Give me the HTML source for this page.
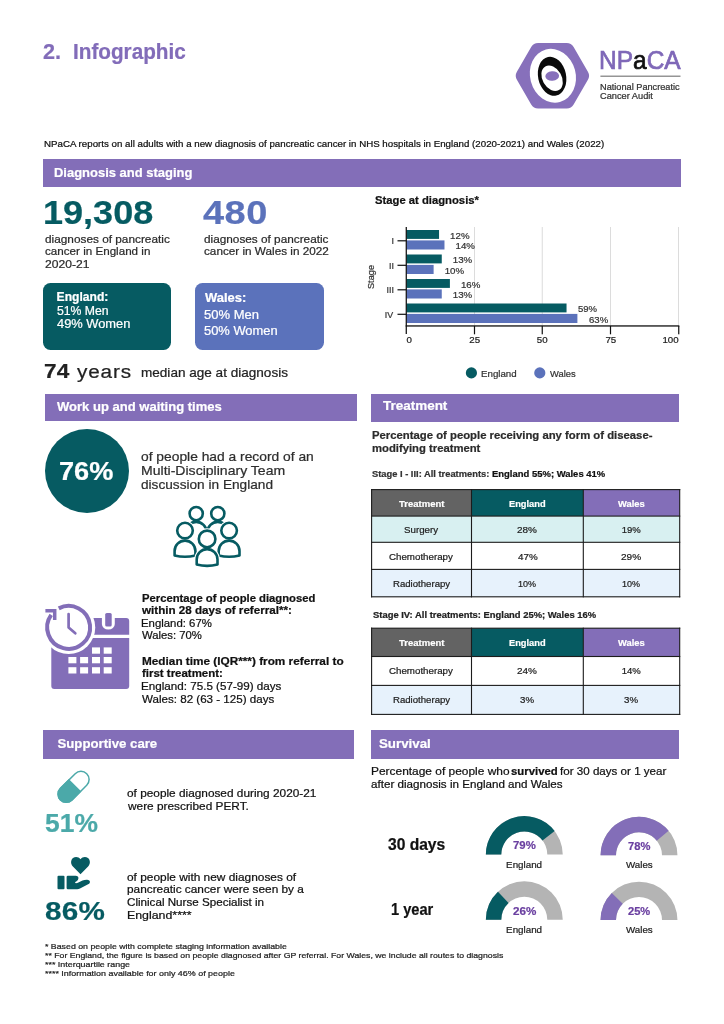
<!DOCTYPE html>
<html lang="en"><head><meta charset="utf-8"><title>NPaCA Infographic</title>
<style>
html,body{margin:0;padding:0;background:#fff;}
body{width:724px;height:1024px;position:relative;overflow:hidden;will-change:transform;font-family:"Liberation Sans",Arial,sans-serif;}
.t{position:absolute;white-space:nowrap;margin:0;padding:0;transform-origin:0 0;-webkit-text-stroke:0.22px currentColor;}
.r{position:absolute;}
svg{position:absolute;left:0;top:0;overflow:visible;}
svg text{font-family:"Liberation Sans",Arial,sans-serif;}
</style></head><body>
<div class="t" style="left:43.47px;top:41px;font-size:21.80px;line-height:21.80px;color:#826cb9;font-weight:700;transform:scaleX(0.9915);">2.</div>
<div class="t" style="left:73.23px;top:41px;font-size:21.80px;line-height:21.80px;color:#826cb9;font-weight:700;transform:scaleX(0.9502);">Infographic</div>
<svg width="724" height="1024" viewBox="0 0 724 1024">
<g id="logo">
<polygon points="580.98,75.75 566.69,100.50 538.11,100.50 523.82,75.75 538.11,51.00 566.69,51.00" fill="#8770bb" stroke="#8770bb" stroke-width="16.0" stroke-linejoin="round"/>
<ellipse cx="552.9" cy="75.7" rx="22.8" ry="27.2" fill="#fff" transform="rotate(-15 552.9 75.7)"/>
<ellipse cx="552.1" cy="76.3" rx="14.0" ry="19.7" fill="#0a0a0a" transform="rotate(-12 552.1 76.3)"/>
<ellipse cx="552.1" cy="78.3" rx="9.6" ry="13.6" fill="#fff" transform="rotate(-30 552.1 78.3)"/>
<ellipse cx="552.2" cy="76" rx="6.9" ry="4.8" fill="#8770bb" transform="rotate(-5 552.2 76)"/>
<rect x="600.4" y="75.6" width="80.1" height="1.2" fill="#7c7c7c"/>
</g>
</svg>
<div class="t" style="left:598.79px;top:48px;font-size:25.30px;line-height:25.30px;color:#111;transform:scaleX(0.9678);-webkit-text-stroke:0.7px currentColor;"><span style="color:#7f68b8">NP</span>a<span style="color:#7f68b8">CA</span></div>
<div class="t" style="left:599.65px;top:83px;font-size:8.30px;line-height:8.30px;color:#333;transform:scaleX(1.1073);">National Pancreatic</div>
<div class="t" style="left:599.94px;top:92px;font-size:8.30px;line-height:8.30px;color:#333;transform:scaleX(1.1136);">Cancer Audit</div>
<div class="t" style="left:44.40px;top:140px;font-size:9.00px;line-height:9.00px;color:#111;transform:scaleX(1.0805);">NPaCA reports on all adults with a new diagnosis of pancreatic cancer in NHS hospitals in England (2020-2021) and Wales (2022)</div>
<div class="r" style="left:43.00px;top:159.10px;width:638.20px;height:28.40px;background:#836eb8;"></div>
<div class="t" style="left:53.54px;top:166px;font-size:13.20px;line-height:13.20px;color:#fff;font-weight:700;transform:scaleX(0.9837);">Diagnosis and staging</div>
<div class="r" style="left:44.90px;top:393.60px;width:311.80px;height:27.30px;background:#836eb8;"></div>
<div class="t" style="left:56.59px;top:400px;font-size:13.20px;line-height:13.20px;color:#fff;font-weight:700;transform:scaleX(0.9878);">Work up and waiting times</div>
<div class="r" style="left:371.20px;top:393.50px;width:307.70px;height:28.20px;background:#836eb8;"></div>
<div class="t" style="left:382.75px;top:399px;font-size:13.20px;line-height:13.20px;color:#fff;font-weight:700;transform:scaleX(1.0210);">Treatment</div>
<div class="r" style="left:43.00px;top:730.40px;width:311.10px;height:28.60px;background:#836eb8;"></div>
<div class="t" style="left:57.53px;top:737px;font-size:13.20px;line-height:13.20px;color:#fff;font-weight:700;">Supportive care</div>
<div class="r" style="left:371.00px;top:730.40px;width:307.90px;height:28.20px;background:#836eb8;"></div>
<div class="t" style="left:378.63px;top:737px;font-size:13.20px;line-height:13.20px;color:#fff;font-weight:700;transform:scaleX(1.0086);">Survival</div>
<div class="t" style="left:43.07px;top:196px;font-size:33.00px;line-height:33.00px;color:#065b62;font-weight:700;transform:scaleX(1.0922);">19,308</div>
<div class="t" style="left:203.43px;top:196px;font-size:33.00px;line-height:33.00px;color:#5b72bb;font-weight:700;letter-spacing:0.429px;transform:scaleX(1.1500);">480</div>
<div class="t" style="left:44.90px;top:234px;font-size:11.40px;line-height:11.40px;color:#2a2a2a;transform:scaleX(1.0373);">diagnoses of pancreatic</div>
<div class="t" style="left:44.91px;top:246px;font-size:11.40px;line-height:11.40px;color:#2a2a2a;transform:scaleX(1.0207);">cancer in England in</div>
<div class="t" style="left:44.79px;top:259px;font-size:11.40px;line-height:11.40px;color:#2a2a2a;transform:scaleX(1.0633);">2020-21</div>
<div class="t" style="left:203.90px;top:234px;font-size:11.40px;line-height:11.40px;color:#2a2a2a;transform:scaleX(1.0347);">diagnoses of pancreatic</div>
<div class="t" style="left:203.91px;top:246px;font-size:11.40px;line-height:11.40px;color:#2a2a2a;transform:scaleX(1.0300);">cancer in Wales in 2022</div>
<div class="r" style="left:43.00px;top:283.00px;width:128.00px;height:66.60px;background:#065b62;border-radius:7.5px;"></div>
<div class="r" style="left:194.90px;top:283.00px;width:128.80px;height:66.60px;background:#5b72bb;border-radius:7.5px;"></div>
<div class="t" style="left:56.60px;top:291px;font-size:12.10px;line-height:12.10px;color:#fff;font-weight:700;">England:</div>
<div class="t" style="left:56.91px;top:305px;font-size:12.10px;line-height:12.10px;color:#fff;transform:scaleX(1.0110);">51% Men</div>
<div class="t" style="left:57.12px;top:318px;font-size:12.10px;line-height:12.10px;color:#fff;transform:scaleX(1.0632);">49% Women</div>
<div class="t" style="left:204.89px;top:292px;font-size:12.10px;line-height:12.10px;color:#fff;font-weight:700;transform:scaleX(1.0702);">Wales:</div>
<div class="t" style="left:204.38px;top:309px;font-size:12.10px;line-height:12.10px;color:#fff;transform:scaleX(1.0752);">50% Men</div>
<div class="t" style="left:204.38px;top:325px;font-size:12.10px;line-height:12.10px;color:#fff;transform:scaleX(1.0666);">50% Women</div>
<div class="t" style="left:43.95px;top:362px;font-size:19.60px;line-height:19.60px;color:#222;font-weight:700;letter-spacing:0.083px;transform:scaleX(1.1500);">74</div>
<div class="t" style="left:76.96px;top:363px;font-size:18.00px;line-height:18.00px;color:#222;letter-spacing:0.734px;transform:scaleX(1.1500);">years</div>
<div class="t" style="left:141.00px;top:367px;font-size:12.40px;line-height:12.40px;color:#222;transform:scaleX(1.0941);">median age at diagnosis</div>
<div class="t" style="left:374.98px;top:195px;font-size:10.90px;line-height:10.90px;color:#111;font-weight:700;transform:scaleX(1.0344);">Stage at diagnosis*</div>
<svg width="724" height="1024" viewBox="0 0 724 1024">
<rect x="474.00" y="227" width="1" height="99" fill="#dcdcdc"/>
<rect x="541.75" y="227" width="1" height="99" fill="#dcdcdc"/>
<rect x="610.00" y="227" width="1" height="99" fill="#dcdcdc"/>
<rect x="678.00" y="227" width="1" height="99" fill="#dcdcdc"/>
<rect x="406.50" y="230.00" width="32.55" height="8.9" fill="#065b62"/>
<rect x="406.50" y="240.40" width="37.98" height="9.1" fill="#5b72bb"/>
<rect x="397.5" y="240.20" width="9" height="1.2" fill="#111"/>
<rect x="406.50" y="254.50" width="35.26" height="8.9" fill="#065b62"/>
<rect x="406.50" y="264.90" width="27.12" height="9.1" fill="#5b72bb"/>
<rect x="397.5" y="264.70" width="9" height="1.2" fill="#111"/>
<rect x="406.50" y="279.00" width="43.40" height="8.9" fill="#065b62"/>
<rect x="406.50" y="289.40" width="35.26" height="9.1" fill="#5b72bb"/>
<rect x="397.5" y="289.20" width="9" height="1.2" fill="#111"/>
<rect x="406.50" y="303.50" width="160.04" height="8.9" fill="#065b62"/>
<rect x="406.50" y="313.90" width="170.89" height="9.1" fill="#5b72bb"/>
<rect x="397.5" y="313.70" width="9" height="1.2" fill="#111"/>
<rect x="405.65" y="227" width="1.25" height="107" fill="#111"/>
<rect x="405.65" y="325.3" width="273.7" height="1.3" fill="#111"/>
<rect x="473.90" y="326" width="1.2" height="8.3" fill="#111"/>
<rect x="541.65" y="326" width="1.2" height="8.3" fill="#111"/>
<rect x="609.90" y="326" width="1.2" height="8.3" fill="#111"/>
<rect x="678.15" y="326" width="1.2" height="8.3" fill="#111"/>
<circle cx="471.4" cy="372.9" r="5.6" fill="#065b62"/>
<circle cx="539.8" cy="372.9" r="5.6" fill="#5b72bb"/>
</svg>
<div class="t" style="left:391.54px;top:237px;font-size:8.90px;line-height:8.90px;color:#333;">I</div>
<div class="t" style="left:389.07px;top:262px;font-size:8.90px;line-height:8.90px;color:#333;">II</div>
<div class="t" style="left:386.60px;top:286px;font-size:8.90px;line-height:8.90px;color:#333;">III</div>
<div class="t" style="left:384.83px;top:311px;font-size:8.90px;line-height:8.90px;color:#333;">IV</div>
<div class="t" style="left:450.11px;top:231px;font-size:9.70px;line-height:9.70px;color:#333;">12%</div>
<div class="t" style="left:455.54px;top:241px;font-size:9.70px;line-height:9.70px;color:#333;">14%</div>
<div class="t" style="left:452.82px;top:255px;font-size:9.70px;line-height:9.70px;color:#333;">13%</div>
<div class="t" style="left:444.69px;top:266px;font-size:9.70px;line-height:9.70px;color:#333;">10%</div>
<div class="t" style="left:460.96px;top:280px;font-size:9.70px;line-height:9.70px;color:#333;">16%</div>
<div class="t" style="left:452.82px;top:290px;font-size:9.70px;line-height:9.70px;color:#333;">13%</div>
<div class="t" style="left:577.96px;top:304px;font-size:9.70px;line-height:9.70px;color:#333;transform:scaleX(0.9849);">59%</div>
<div class="t" style="left:588.71px;top:315px;font-size:9.70px;line-height:9.70px;color:#333;transform:scaleX(0.9900);">63%</div>
<div class="t" style="left:406.62px;top:335px;font-size:9.70px;line-height:9.70px;color:#222;">0</div>
<div class="t" style="left:469.31px;top:335px;font-size:9.70px;line-height:9.70px;color:#222;">25</div>
<div class="t" style="left:536.85px;top:335px;font-size:9.70px;line-height:9.70px;color:#222;">50</div>
<div class="t" style="left:605.46px;top:335px;font-size:9.70px;line-height:9.70px;color:#222;">75</div>
<div class="t" style="left:662.39px;top:335px;font-size:9.70px;line-height:9.70px;color:#222;">100</div>
<div class="t" style="left:480.70px;top:369px;font-size:9.60px;line-height:9.60px;color:#333;transform:scaleX(1.0124);">England</div>
<div class="t" style="left:550.21px;top:369px;font-size:9.60px;line-height:9.60px;color:#333;transform:scaleX(0.9738);">Wales</div>
<div class="t" style="left:372px;top:277px;font-size:9.2px;line-height:9.2px;color:#333;transform-origin:50% 50%;transform:translate(-50%,-50%) rotate(-90deg);">Stage</div>
<div class="r" style="left:44.6px;top:428.8px;width:84.4px;height:84.4px;border-radius:50%;background:#065b62"></div>
<div class="t" style="left:58.86px;top:459px;font-size:25.00px;line-height:25.00px;color:#fff;font-weight:700;transform:scaleX(1.0864);">76%</div>
<div class="t" style="left:141.22px;top:451px;font-size:12.60px;line-height:12.60px;color:#2e2e2e;transform:scaleX(1.0968);">of people had a record of an</div>
<div class="t" style="left:140.65px;top:465px;font-size:12.60px;line-height:12.60px;color:#2e2e2e;transform:scaleX(1.1157);">Multi-Disciplinary Team</div>
<div class="t" style="left:141.23px;top:479px;font-size:12.60px;line-height:12.60px;color:#2e2e2e;transform:scaleX(1.0834);">discussion in England</div>
<svg width="724" height="1024" viewBox="0 0 724 1024">
<path d="M185.80 532.30 A10.40 10.40 0 0 1 206.60 532.30" fill="none" stroke="#065b62" stroke-width="2.60"/><circle cx="196.20" cy="513.60" r="6.60" fill="#fff" stroke="#065b62" stroke-width="2.60"/>
<path d="M207.40 532.30 A10.40 10.40 0 0 1 228.20 532.30" fill="none" stroke="#065b62" stroke-width="2.60"/><circle cx="217.80" cy="513.60" r="6.60" fill="#fff" stroke="#065b62" stroke-width="2.60"/>
<path d="M174.60 555.40 V551.00 A10.40 10.40 0 0 1 195.40 551.00 V555.40 Q185.00 558.00 174.60 555.40 Z" fill="#fff" stroke="#fff" stroke-width="4.80" stroke-linejoin="round"/><circle cx="185.00" cy="530.60" r="7.80" fill="#fff" stroke="#fff" stroke-width="4.80"/><path d="M174.60 555.40 V551.00 A10.40 10.40 0 0 1 195.40 551.00 V555.40 Q185.00 558.00 174.60 555.40 Z" fill="#fff" stroke="#065b62" stroke-width="2.60" stroke-linejoin="round"/><circle cx="185.00" cy="530.60" r="7.80" fill="#fff" stroke="#065b62" stroke-width="2.60"/>
<path d="M218.70 555.40 V551.00 A10.40 10.40 0 0 1 239.50 551.00 V555.40 Q229.10 558.00 218.70 555.40 Z" fill="#fff" stroke="#fff" stroke-width="4.80" stroke-linejoin="round"/><circle cx="229.10" cy="530.60" r="7.80" fill="#fff" stroke="#fff" stroke-width="4.80"/><path d="M218.70 555.40 V551.00 A10.40 10.40 0 0 1 239.50 551.00 V555.40 Q229.10 558.00 218.70 555.40 Z" fill="#fff" stroke="#065b62" stroke-width="2.60" stroke-linejoin="round"/><circle cx="229.10" cy="530.60" r="7.80" fill="#fff" stroke="#065b62" stroke-width="2.60"/>
<path d="M196.70 564.60 V559.50 A10.40 10.40 0 0 1 217.50 559.50 V564.60 Q207.10 567.20 196.70 564.60 Z" fill="#fff" stroke="#fff" stroke-width="4.80" stroke-linejoin="round"/><circle cx="207.10" cy="538.90" r="8.30" fill="#fff" stroke="#fff" stroke-width="4.80"/><path d="M196.70 564.60 V559.50 A10.40 10.40 0 0 1 217.50 559.50 V564.60 Q207.10 567.20 196.70 564.60 Z" fill="#fff" stroke="#065b62" stroke-width="2.60" stroke-linejoin="round"/><circle cx="207.10" cy="538.90" r="8.30" fill="#fff" stroke="#065b62" stroke-width="2.60"/>
</svg>
<svg width="724" height="1024" viewBox="0 0 724 1024">
<path d="M54.3 618.1 H126.2 a3 3 0 0 1 3 3 V634.8 H51.3 V621.1 a3 3 0 0 1 3 -3 Z" fill="#836eb8"/>
<path d="M51.3 638 H129.2 V685.9 a3 3 0 0 1 -3 3 H54.3 a3 3 0 0 1 -3 -3 Z" fill="#836eb8"/>
<path d="M101.9 616 V624 a6.45 5.6 0 0 0 12.9 0 V616 Z" fill="#fff"/>
<rect x="105.2" y="612.9" width="6.5" height="13.7" rx="1.6" fill="#836eb8"/>
<rect x="92.0" y="647.4" width="8" height="6.3" fill="#fff"/>
<rect x="103.7" y="647.4" width="8" height="6.3" fill="#fff"/>
<rect x="68.4" y="657.0" width="8" height="6.3" fill="#fff"/>
<rect x="80.1" y="657.0" width="8" height="6.3" fill="#fff"/>
<rect x="92.0" y="657.0" width="8" height="6.3" fill="#fff"/>
<rect x="103.7" y="657.0" width="8" height="6.3" fill="#fff"/>
<rect x="68.4" y="667.2" width="8" height="6.3" fill="#fff"/>
<rect x="80.1" y="667.2" width="8" height="6.3" fill="#fff"/>
<rect x="92.0" y="667.2" width="8" height="6.3" fill="#fff"/>
<rect x="103.7" y="667.2" width="8" height="6.3" fill="#fff"/>
<circle cx="68.65" cy="627.4" r="26.6" fill="#fff"/>
<path d="M58.75 608.37 A21.45 21.45 0 1 1 51.19 614.94" fill="none" stroke="#836eb8" stroke-width="4.0"/>
<path d="M45.4 610.7 H54.7 V620" fill="none" stroke="#836eb8" stroke-width="3.5" stroke-linejoin="miter"/>
<path d="M68.6 614 V627.4 L75.3 633.3" fill="none" stroke="#836eb8" stroke-width="2.7" stroke-linecap="round" stroke-linejoin="round"/>
</svg>
<div class="t" style="left:141.56px;top:593px;font-size:10.90px;line-height:10.90px;color:#111;font-weight:700;transform:scaleX(1.0341);">Percentage of people diagnosed</div>
<div class="t" style="left:142.33px;top:605px;font-size:10.90px;line-height:10.90px;color:#111;font-weight:700;transform:scaleX(1.0672);">within 28 days of referral**:</div>
<div class="t" style="left:141.37px;top:618px;font-size:10.90px;line-height:10.90px;color:#111;transform:scaleX(1.0451);">England: 67%</div>
<div class="t" style="left:142.25px;top:630px;font-size:10.90px;line-height:10.90px;color:#111;transform:scaleX(1.0380);">Wales: 70%</div>
<div class="t" style="left:141.52px;top:656px;font-size:10.90px;line-height:10.90px;color:#111;font-weight:700;transform:scaleX(1.0815);">Median time (IQR***) from referral to</div>
<div class="t" style="left:142.11px;top:668px;font-size:10.90px;line-height:10.90px;color:#111;font-weight:700;transform:scaleX(1.0517);">first treatment:</div>
<div class="t" style="left:141.34px;top:681px;font-size:10.90px;line-height:10.90px;color:#111;transform:scaleX(1.0690);">England: 75.5 (57-99) days</div>
<div class="t" style="left:142.25px;top:694px;font-size:10.90px;line-height:10.90px;color:#111;transform:scaleX(1.0640);">Wales: 82 (63 - 125) days</div>
<div class="t" style="left:371.95px;top:430px;font-size:11.40px;line-height:11.40px;color:#2b2b2b;font-weight:700;transform:scaleX(0.9934);">Percentage of people receiving any form of disease-</div>
<div class="t" style="left:371.97px;top:443px;font-size:11.40px;line-height:11.40px;color:#2b2b2b;font-weight:700;transform:scaleX(0.9899);">modifying treatment</div>
<div class="t" style="left:372.44px;top:470px;font-size:9.20px;line-height:9.20px;color:#333;font-weight:700;transform:scaleX(1.0152);">Stage I - III: All treatments:</div>
<div class="t" style="left:491.57px;top:470px;font-size:9.20px;line-height:9.20px;color:#111;font-weight:700;transform:scaleX(1.0297);">England 55%; Wales 41%</div>
<div class="t" style="left:372.94px;top:611px;font-size:9.20px;line-height:9.20px;color:#222;font-weight:700;transform:scaleX(1.0242);">Stage IV: All treatments: England 25%; Wales 16%</div>
<svg width="724" height="1024" viewBox="0 0 724 1024">
<rect x="371.60" y="489.60" width="99.90" height="26.50" fill="#636363"/>
<rect x="471.50" y="489.60" width="111.80" height="26.50" fill="#065b62"/>
<rect x="583.30" y="489.60" width="96.40" height="26.50" fill="#836eb8"/>
<rect x="371.60" y="516.10" width="308.10" height="26.20" fill="#d8f0f1"/>
<rect x="371.60" y="542.30" width="308.10" height="27.10" fill="#ffffff"/>
<rect x="371.60" y="569.40" width="308.10" height="27.40" fill="#e7f2fc"/>
<rect x="371.05" y="489.05" width="309.20" height="1.1" fill="#1c1c1c"/>
<rect x="371.05" y="515.55" width="309.20" height="1.1" fill="#1c1c1c"/>
<rect x="371.05" y="541.75" width="309.20" height="1.1" fill="#1c1c1c"/>
<rect x="371.05" y="568.85" width="309.20" height="1.1" fill="#1c1c1c"/>
<rect x="371.05" y="596.25" width="309.20" height="1.1" fill="#1c1c1c"/>
<rect x="371.05" y="489.05" width="1.1" height="108.30" fill="#1c1c1c"/>
<rect x="470.95" y="489.05" width="1.1" height="108.30" fill="#1c1c1c"/>
<rect x="582.75" y="489.05" width="1.1" height="108.30" fill="#1c1c1c"/>
<rect x="679.15" y="489.05" width="1.1" height="108.30" fill="#1c1c1c"/>
</svg>
<div class="t" style="left:398.80px;top:499px;font-size:9.90px;line-height:9.90px;color:#fff;font-weight:700;transform:scaleX(0.9621);">Treatment</div>
<div class="t" style="left:509.04px;top:499px;font-size:9.90px;line-height:9.90px;color:#fff;font-weight:700;transform:scaleX(0.9404);">England</div>
<div class="t" style="left:618.29px;top:499px;font-size:9.90px;line-height:9.90px;color:#fff;font-weight:700;transform:scaleX(0.9483);">Wales</div>
<div class="t" style="left:404.31px;top:525px;font-size:9.50px;line-height:9.50px;color:#222;transform:scaleX(1.0237);">Surgery</div>
<div class="t" style="left:517.35px;top:525px;font-size:9.50px;line-height:9.50px;color:#222;transform:scaleX(1.0493);">28%</div>
<div class="t" style="left:621.78px;top:525px;font-size:9.50px;line-height:9.50px;color:#222;">19%</div>
<div class="t" style="left:389.36px;top:552px;font-size:9.50px;line-height:9.50px;color:#222;transform:scaleX(1.0256);">Chemotherapy</div>
<div class="t" style="left:517.63px;top:552px;font-size:9.50px;line-height:9.50px;color:#222;transform:scaleX(1.0342);">47%</div>
<div class="t" style="left:621.35px;top:552px;font-size:9.50px;line-height:9.50px;color:#222;transform:scaleX(1.0603);">29%</div>
<div class="t" style="left:392.61px;top:579px;font-size:9.50px;line-height:9.50px;color:#222;transform:scaleX(1.0106);">Radiotherapy</div>
<div class="t" style="left:518.22px;top:579px;font-size:9.50px;line-height:9.50px;color:#222;transform:scaleX(0.9468);">10%</div>
<div class="t" style="left:622.32px;top:579px;font-size:9.50px;line-height:9.50px;color:#222;transform:scaleX(0.9468);">10%</div>
<svg width="724" height="1024" viewBox="0 0 724 1024">
<rect x="371.60" y="628.20" width="99.90" height="28.30" fill="#636363"/>
<rect x="471.50" y="628.20" width="111.80" height="28.30" fill="#065b62"/>
<rect x="583.30" y="628.20" width="96.40" height="28.30" fill="#836eb8"/>
<rect x="371.60" y="656.50" width="308.10" height="28.90" fill="#ffffff"/>
<rect x="371.60" y="685.40" width="308.10" height="29.00" fill="#e7f2fc"/>
<rect x="371.05" y="627.65" width="309.20" height="1.1" fill="#1c1c1c"/>
<rect x="371.05" y="655.95" width="309.20" height="1.1" fill="#1c1c1c"/>
<rect x="371.05" y="684.85" width="309.20" height="1.1" fill="#1c1c1c"/>
<rect x="371.05" y="713.85" width="309.20" height="1.1" fill="#1c1c1c"/>
<rect x="371.05" y="627.65" width="1.1" height="87.30" fill="#1c1c1c"/>
<rect x="470.95" y="627.65" width="1.1" height="87.30" fill="#1c1c1c"/>
<rect x="582.75" y="627.65" width="1.1" height="87.30" fill="#1c1c1c"/>
<rect x="679.15" y="627.65" width="1.1" height="87.30" fill="#1c1c1c"/>
</svg>
<div class="t" style="left:398.80px;top:638px;font-size:9.90px;line-height:9.90px;color:#fff;font-weight:700;transform:scaleX(0.9621);">Treatment</div>
<div class="t" style="left:509.04px;top:638px;font-size:9.90px;line-height:9.90px;color:#fff;font-weight:700;transform:scaleX(0.9404);">England</div>
<div class="t" style="left:618.29px;top:638px;font-size:9.90px;line-height:9.90px;color:#fff;font-weight:700;transform:scaleX(0.9483);">Wales</div>
<div class="t" style="left:389.36px;top:666px;font-size:9.50px;line-height:9.50px;color:#222;transform:scaleX(1.0256);">Chemotherapy</div>
<div class="t" style="left:517.35px;top:666px;font-size:9.50px;line-height:9.50px;color:#222;transform:scaleX(1.0493);">24%</div>
<div class="t" style="left:621.78px;top:666px;font-size:9.50px;line-height:9.50px;color:#222;">14%</div>
<div class="t" style="left:392.61px;top:695px;font-size:9.50px;line-height:9.50px;color:#222;transform:scaleX(1.0106);">Radiotherapy</div>
<div class="t" style="left:520.38px;top:695px;font-size:9.50px;line-height:9.50px;color:#222;transform:scaleX(1.0204);">3%</div>
<div class="t" style="left:624.48px;top:695px;font-size:9.50px;line-height:9.50px;color:#222;transform:scaleX(1.0204);">3%</div>
<svg width="724" height="1024" viewBox="0 0 724 1024">
<g transform="translate(73.6 786.8) rotate(-45)"><rect x="-18.55" y="-8.15" width="37.1" height="16.3" rx="8.15" fill="#fff" stroke="#4ba9a9" stroke-width="1.5"/><path d="M2.1 -8.9 H-10.4 a8.9 8.9 0 0 0 0 17.8 H2.1 Z" fill="#4ba9a9"/></g>
<path d="M80.5 874.3 L72.9 866.5 C70.4 863.9 70.6 860 73 858 C75.3 856.2 78.7 856.6 80.5 859.3 C82.3 856.6 85.7 856.2 88 858 C90.4 860 90.6 863.9 88.1 866.5 Z" fill="#065b62"/>
<rect x="57.5" y="875.7" width="7.0" height="13.5" rx="1" fill="#065b62"/>
<path d="M66.6 877 Q66.6 875.7 67.9 875.7 H75.6 C77.6 875.7 78.6 876.8 78.4 878.2 C78.3 879.4 77.8 880.4 76.6 881.2 L75.3 882 C74.9 882.4 75.2 883.2 76 883.2 C76.8 883.2 77.6 883.1 78.4 882.6 L82.5 880.5 C84 879.9 86 879.8 88 879.9 C89.4 880 90 881 89.9 882 C89.8 883 89.4 883.6 88.6 884.1 L80 888.6 C79 889.1 78.2 889.2 77.2 889.2 H68 Q66.6 889.2 66.6 887.9 Z" fill="#065b62"/>
</svg>
<div class="t" style="left:45.11px;top:811px;font-size:25.40px;line-height:25.40px;color:#4ba9a9;font-weight:700;transform:scaleX(1.0404);">51%</div>
<div class="t" style="left:45.48px;top:899px;font-size:25.80px;line-height:25.80px;color:#065b62;font-weight:700;letter-spacing:0.227px;transform:scaleX(1.1500);">86%</div>
<div class="t" style="left:127.20px;top:788px;font-size:11.00px;line-height:11.00px;color:#111;transform:scaleX(1.0751);">of people diagnosed during 2020-21</div>
<div class="t" style="left:127.72px;top:801px;font-size:11.00px;line-height:11.00px;color:#111;transform:scaleX(1.0763);">were prescribed PERT.</div>
<div class="t" style="left:127.20px;top:872px;font-size:11.00px;line-height:11.00px;color:#111;transform:scaleX(1.0800);">of people with new diagnoses of</div>
<div class="t" style="left:126.94px;top:884px;font-size:11.00px;line-height:11.00px;color:#111;transform:scaleX(1.0752);">pancreatic cancer were seen by a</div>
<div class="t" style="left:127.12px;top:897px;font-size:11.00px;line-height:11.00px;color:#111;transform:scaleX(1.0573);">Clinical Nurse Specialist in</div>
<div class="t" style="left:126.69px;top:910px;font-size:11.00px;line-height:11.00px;color:#111;transform:scaleX(1.1237);">England****</div>
<div class="t" style="left:44.76px;top:943px;font-size:7.90px;line-height:7.90px;color:#222;transform:scaleX(1.1138);">* Based on people with complete staging information available</div>
<div class="t" style="left:44.76px;top:952px;font-size:7.90px;line-height:7.90px;color:#222;transform:scaleX(1.1057);">** For England, the figure is based on people diagnosed after GP referral. For Wales, we include all routes to diagnosis</div>
<div class="t" style="left:44.76px;top:961px;font-size:7.90px;line-height:7.90px;color:#222;transform:scaleX(1.1271);">*** Interquartile range</div>
<div class="t" style="left:44.76px;top:970px;font-size:7.90px;line-height:7.90px;color:#222;transform:scaleX(1.1304);">**** Information available for only 46% of people</div>
<div class="t" style="left:370.62px;top:766px;font-size:10.90px;line-height:10.90px;color:#111;transform:scaleX(1.0948);">Percentage of people who</div>
<div class="t" style="left:511.10px;top:766px;font-size:10.90px;line-height:10.90px;color:#111;font-weight:700;transform:scaleX(1.0427);">survived</div>
<div class="t" style="left:559.74px;top:766px;font-size:10.90px;line-height:10.90px;color:#111;transform:scaleX(1.0649);">for 30 days or 1 year</div>
<div class="t" style="left:371.11px;top:779px;font-size:10.90px;line-height:10.90px;color:#111;transform:scaleX(1.0682);">after diagnosis in England and Wales</div>
<div class="t" style="left:387.96px;top:837px;font-size:15.60px;line-height:15.60px;color:#111;font-weight:700;">30 days</div>
<div class="t" style="left:391.19px;top:902px;font-size:15.60px;line-height:15.60px;color:#111;font-weight:700;transform:scaleX(0.9382);">1 year</div>
<svg width="724" height="1024" viewBox="0 0 724 1024">
<path d="M485.85 854.60 A38.45 38.45 0 0 1 562.75 854.60 H547.30 A23.00 23.00 0 0 0 501.30 854.60 Z" fill="#b4b4b4"/><path d="M485.85 854.60 A38.45 38.45 0 0 1 554.68 831.03 L542.47 840.50 A23.00 23.00 0 0 0 501.30 854.60 Z" fill="#065b62"/>
<path d="M600.55 855.30 A38.45 38.45 0 0 1 677.45 855.30 H662.00 A23.00 23.00 0 0 0 616.00 855.30 Z" fill="#b4b4b4"/><path d="M600.55 855.30 A38.45 38.45 0 0 1 668.63 830.79 L656.72 840.64 A23.00 23.00 0 0 0 616.00 855.30 Z" fill="#836eb8"/>
<path d="M485.85 919.70 A38.45 38.45 0 0 1 562.75 919.70 H547.30 A23.00 23.00 0 0 0 501.30 919.70 Z" fill="#b4b4b4"/><path d="M485.85 919.70 A38.45 38.45 0 0 1 497.98 891.67 L508.56 902.93 A23.00 23.00 0 0 0 501.30 919.70 Z" fill="#065b62"/>
<path d="M600.55 920.10 A38.45 38.45 0 0 1 677.45 920.10 H662.00 A23.00 23.00 0 0 0 616.00 920.10 Z" fill="#b4b4b4"/><path d="M600.55 920.10 A38.45 38.45 0 0 1 611.81 892.91 L622.74 903.84 A23.00 23.00 0 0 0 616.00 920.10 Z" fill="#836eb8"/>
</svg>
<div class="t" style="left:512.52px;top:840px;font-size:10.60px;line-height:10.60px;color:#6a3fa0;font-weight:700;transform:scaleX(1.0737);">79%</div>
<div class="t" style="left:627.63px;top:841px;font-size:10.60px;line-height:10.60px;color:#6a3fa0;font-weight:700;transform:scaleX(1.0542);">78%</div>
<div class="t" style="left:512.60px;top:906px;font-size:10.60px;line-height:10.60px;color:#6a3fa0;font-weight:700;transform:scaleX(1.0984);">26%</div>
<div class="t" style="left:627.72px;top:906px;font-size:10.60px;line-height:10.60px;color:#6a3fa0;font-weight:700;transform:scaleX(1.0498);">25%</div>
<div class="t" style="left:506.10px;top:860px;font-size:9.80px;line-height:9.80px;color:#222;">England</div>
<div class="t" style="left:626.16px;top:860px;font-size:9.80px;line-height:9.80px;color:#222;transform:scaleX(0.9936);">Wales</div>
<div class="t" style="left:506.10px;top:925px;font-size:9.80px;line-height:9.80px;color:#222;">England</div>
<div class="t" style="left:626.16px;top:925px;font-size:9.80px;line-height:9.80px;color:#222;transform:scaleX(0.9936);">Wales</div>
</body></html>
